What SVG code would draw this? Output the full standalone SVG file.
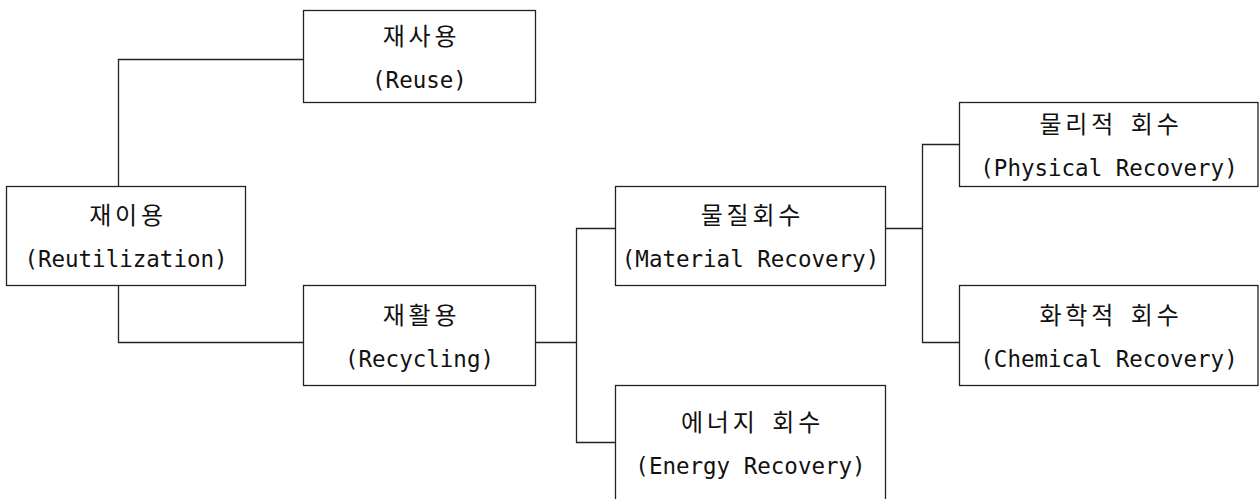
<svg xmlns="http://www.w3.org/2000/svg" width="1259" height="499" viewBox="0 0 1259 499">
<style>
.box{fill:#fff;stroke:#222;stroke-width:1.3}
.ko{font-family:"Noto Sans CJK KR","DejaVu Sans",sans-serif;font-size:24px;letter-spacing:3.8px;word-spacing:4.6px;fill:#111;text-anchor:middle}
.en{font-family:"DejaVu Sans Mono","Liberation Mono","Noto Sans CJK KR",monospace;font-size:22.5px;fill:#111;text-anchor:middle}
.conn{fill:none;stroke:#222;stroke-width:1.3}
</style>
<rect width="1259" height="499" fill="#fff"/>
<g id="connectors">
<path class="conn" d="M118.5,186.5 V59.5 H303.5"/>
<path class="conn" d="M118.5,285.5 V342.5 H303.5"/>
<path class="conn" d="M535.5,342.5 H576.5"/>
<path class="conn" d="M615.5,228.5 H576.5 V442.5 H615.5"/>
<path class="conn" d="M885.5,228.5 H922.5"/>
<path class="conn" d="M959.5,144.5 H922.5 V342.5 H959.5"/>
</g>
<g id="reuse">
<rect class="box" x="303.5" y="10.5" width="232" height="92"/>
<text class="ko" x="421.5" y="44.5">재사용</text>
<text class="en" x="419.5" y="87.5">(Reuse)</text>
</g>
<g id="reutilization">
<rect class="box" x="6.5" y="186.5" width="239" height="99"/>
<text class="ko" x="128" y="224">재이용</text>
<text class="en" x="126" y="267">(Reutilization)</text>
</g>
<g id="recycling">
<rect class="box" x="303.5" y="285.5" width="232" height="100"/>
<text class="ko" x="421.5" y="323.5">재활용</text>
<text class="en" x="419.5" y="366.5">(Recycling)</text>
</g>
<g id="material">
<rect class="box" x="615.5" y="186.5" width="270" height="99"/>
<text class="ko" x="752.5" y="224">물질회수</text>
<text class="en" x="750.5" y="267">(Material Recovery)</text>
</g>
<g id="energy">
<rect class="box" x="615.5" y="385.5" width="270" height="116"/>
<text class="ko" x="752.5" y="431">에너지 회수</text>
<text class="en" x="750.5" y="474">(Energy Recovery)</text>
</g>
<g id="physical">
<rect class="box" x="959.5" y="102.5" width="298.5" height="84"/>
<text class="ko" x="1111" y="132.5">물리적 회수</text>
<text class="en" x="1109" y="175.5">(Physical Recovery)</text>
</g>
<g id="chemical">
<rect class="box" x="959.5" y="285.5" width="298.5" height="100"/>
<text class="ko" x="1111" y="323.5">화학적 회수</text>
<text class="en" x="1109" y="366.5">(Chemical Recovery)</text>
</g>
</svg>
